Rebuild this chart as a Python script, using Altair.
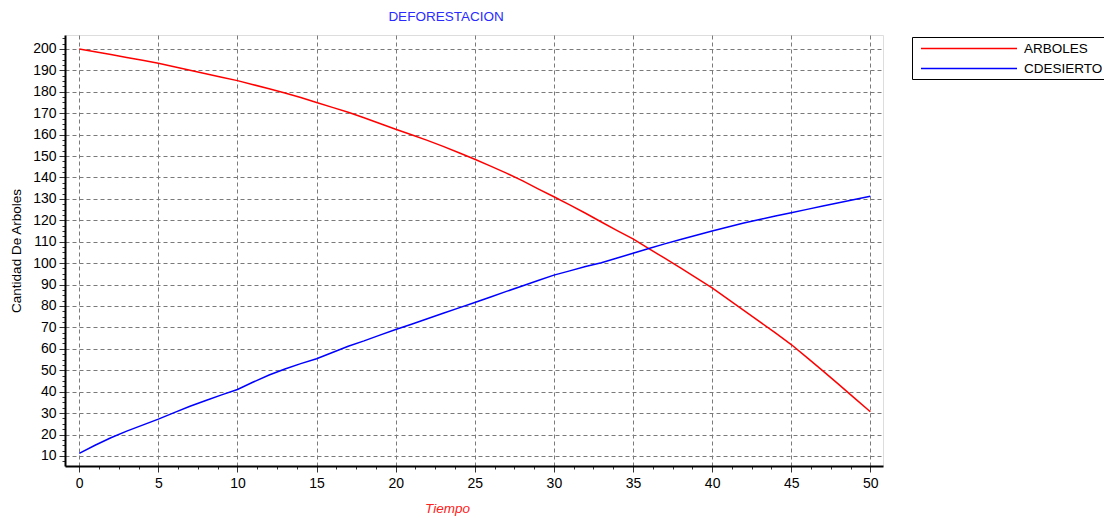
import altair as alt
import pandas as pd

tiempo = list(range(51))

arboles = [200.0, 198.7, 197.4, 196.0, 194.7, 193.3, 191.7, 190.0, 188.4, 186.8,
           185.2, 183.3, 181.4, 179.4, 177.3, 175.0, 172.7, 170.4, 167.9, 165.2,
           162.5, 159.9, 157.3, 154.5, 151.5, 148.5, 145.3, 142.0, 138.5, 134.7,
           131.0, 127.2, 123.3, 119.2, 115.2, 111.3, 106.8, 102.3, 97.8, 93.1,
           88.4, 83.2, 78.0, 72.7, 67.4, 62.0, 55.9, 49.7, 43.4, 37.0, 30.6]

cdesierto = [11.2, 15.0, 18.5, 21.6, 24.4, 27.2, 30.2, 33.2, 35.9, 38.5,
             41.0, 44.5, 47.8, 50.6, 53.1, 55.4, 58.3, 61.2, 63.7, 66.4,
             69.0, 71.5, 74.0, 76.6, 79.1, 81.6, 84.2, 86.8, 89.3, 91.9,
             94.4, 96.4, 98.4, 100.2, 102.4, 104.6, 106.8, 109.0, 111.0, 113.0,
             115.0, 116.9, 118.7, 120.4, 122.0, 123.5, 125.1, 126.7, 128.2, 129.7, 131.2]

series = ["ARBOLES", "CDESIERTO"]
colors = ["#ff0000", "#0000ff"]

# axis tick positions (major + minor)
x_ticks = [i * 1.25 for i in range(41)]
y_ticks = [7.5 + i * 2.5 for i in range(80)]

df = pd.DataFrame({
    "Tiempo": tiempo + tiempo,
    "Valor": arboles + cdesierto,
    "Serie": [series[0]] * len(tiempo) + [series[1]] * len(tiempo),
})

FONT = "Liberation Sans"

x_axis = alt.Axis(
    values=x_ticks,
    labelExpr="datum.value % 5 === 0 ? datum.label : ''",
    tickSize={"condition": {"test": "datum.value % 5 !== 0", "value": 3}, "value": 6},
    gridOpacity={"condition": {"test": "datum.value % 5 !== 0", "value": 0}, "value": 1},
    gridColor="#7a7a7a", gridDash=[4, 3], gridWidth=1,
    domainColor="black", domainWidth=2, tickColor="#333333", tickWidth=1,
    labelFont=FONT, labelFontSize=14, labelColor="black", labelPadding=4,
    labelFlush=False, labelOverlap=False,
    title="Tiempo", titleColor="#ff2020", titleFontStyle="italic",
    titleFont=FONT, titleFontSize=13.5, titleFontWeight="normal",
    titleX=382, titlePadding=11,
)

y_axis = alt.Axis(
    values=y_ticks,
    labelExpr="datum.value % 10 === 0 ? datum.label : ''",
    tickSize={"condition": {"test": "datum.value % 10 !== 0", "value": 3}, "value": 6},
    gridOpacity={"condition": {"test": "datum.value % 10 !== 0", "value": 0}, "value": 1},
    gridColor="#7a7a7a", gridDash=[4, 3], gridWidth=1,
    domainColor="black", domainWidth=2, tickColor="#333333", tickWidth=1,
    labelFont=FONT, labelFontSize=14, labelColor="black", labelPadding=3,
    labelFlush=False, labelOverlap=False,
    title="Cantidad De Arboles", titleColor="black",
    titleFont=FONT, titleFontSize=13.5, titleFontWeight="normal", titlePadding=9,
)

chart = alt.Chart(df).mark_line(strokeWidth=1.5).encode(
    x=alt.X("Tiempo:Q", scale=alt.Scale(domain=[-0.9, 50.8], nice=False, zero=False), axis=x_axis),
    y=alt.Y("Valor:Q", scale=alt.Scale(domain=[5.3, 206.5], nice=False, zero=False), axis=y_axis),
    color=alt.Color(
        "Serie:N",
        scale=alt.Scale(domain=series, range=colors),
        legend=alt.Legend(
            orient="none", legendX=847, legendY=2, title=None,
            symbolType="M-0.385,0H14.385", symbolSize=169, symbolStrokeWidth=1.5,
            labelFont=FONT, labelFontSize=13.5, labelColor="black", labelOffset=93,
            strokeColor="black", fillColor="white", padding=4, rowPadding=6,
        ),
    ),
).properties(
    width=818,
    height=431,
    title=alt.TitleParams("DEFORESTACION", color="#2a2aff", font=FONT, fontSize=13.5,
                          fontWeight="normal", anchor="middle", dx=-28, offset=8),
    autosize=alt.AutoSizeParams(type="none"),
    padding={"left": 57, "top": 27, "right": 221, "bottom": 50},
).configure_view(stroke=None).configure(background="white")

chart.save("out.html", embed_options={"renderer": "svg", "actions": False})
